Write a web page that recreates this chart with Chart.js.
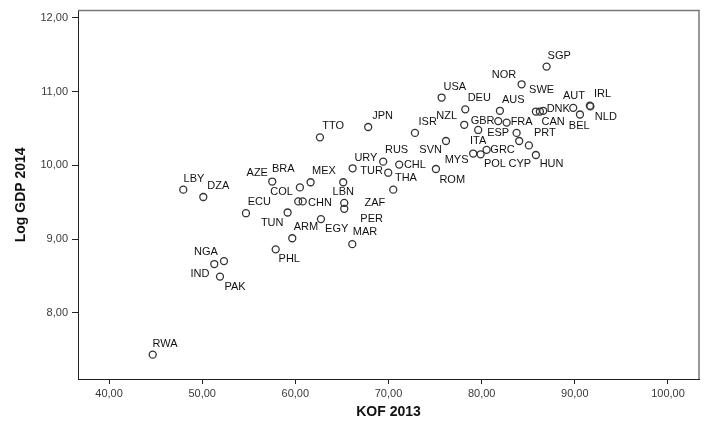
<!DOCTYPE html>
<html>
<head>
<meta charset="utf-8">
<script src="https://cdn.jsdelivr.net/npm/chart.js@4.4.1/dist/chart.umd.min.js"></script>
<style>
  html, body { margin: 0; padding: 0; background: #fff; }
  #wrap { position: relative; width: 708px; height: 425px; }
</style>
</head>
<body>
<div id="wrap"><canvas id="c"></canvas></div>
<script>
// 国コード / KOF 2013 / Log GDP 2014
const countries = ['SGP','NOR','SWE','USA','DEU','AUS','AUT','IRL','NLD','DNK','CAN','BEL','NZL','GBR','FRA','ITA','ISR','ESP','PRT','CYP','HUN','SVN','MYS','POL','GRC','JPN','TTO','RUS','URY','CHL','TUR','THA','ROM','MEX','LBN','ZAF','PER','COL','CHN','AZE','BRA','LBY','DZA','ECU','TUN','EGY','ARM','MAR','PHL','NGA','IND','PAK','RWA'];
const kof = [86.97,84.29,86.25,75.70,78.24,81.96,89.83,91.62,91.67,86.61,85.82,90.55,78.13,81.78,82.68,79.63,72.84,83.75,85.07,84.03,85.82,76.17,79.09,79.89,80.53,67.82,62.64,69.43,66.15,71.15,69.97,70.51,75.09,61.64,65.14,65.25,65.25,60.31,60.79,57.52,60.49,47.97,50.12,54.70,59.17,62.75,59.67,66.11,57.89,52.34,51.30,51.91,44.69];
const logGdp = [11.34,11.10,10.73,10.92,10.76,10.74,10.78,10.81,10.80,10.74,10.73,10.69,10.55,10.60,10.58,10.48,10.44,10.44,10.27,10.33,10.14,10.33,10.16,10.15,10.21,10.52,10.38,10.05,9.96,10.01,9.90,9.67,9.95,9.77,9.77,9.49,9.41,9.51,9.51,9.78,9.70,9.67,9.57,9.35,9.36,9.27,9.01,8.93,8.86,8.70,8.66,8.49,7.43];
const xTicks = [40, 50, 60, 70, 80, 90, 100];
const yTicks = [8, 9, 10, 11, 12];

// ラベルの表示位置（点からのずれ, px）
const labelOffset = {
  SGP:[12.6,-10.4], NOR:[-17.7,-9.7], SWE:[1.7,-21.6], USA:[13.3,-10.3], DEU:[14,-11.3], AUS:[13.3,-10.6],
  AUT:[0.7,-11.6], IRL:[12.7,-11.3], NLD:[15.5,10.5], DNK:[15,-1.7], CAN:[17.3,10.7], BEL:[-0.7,11.7],
  NZL:[-17.6,-8.4], GBR:[-15.6,0], FRA:[15,-0.3], ITA:[0,11], ISR:[12.7,-11], ESP:[-18.4,0],
  PRT:[16,-12], CYP:[0.7,22.7], HUN:[15.7,9.4], SVN:[-15.3,9.4], MYS:[-16.6,6.6], POL:[14.3,9.3],
  GRC:[16,0], JPN:[14.4,-11], TTO:[13.3,-11], RUS:[13.4,-11.3], URY:[13.3,-10.7], CHL:[15.7,0],
  TUR:[-16.6,-1.4], THA:[12.7,-11.6], ROM:[16.3,10.6], MEX:[13.3,-11], LBN:[0,9.5], ZAF:[30.7,0],
  PER:[27.4,10.4], COL:[-16.6,-9.3], CHN:[17.3,1.4], AZE:[-15,-9], BRA:[-16.7,-18], LBY:[10.7,-10.6],
  DZA:[15,-11.4], ECU:[13.3,-11], TUN:[-15.4,10.7], EGY:[15.7,10], ARM:[13.7,-11], MAR:[12.7,-11.7],
  PHL:[13.6,9.3], NGA:[-18,-9.6], IND:[-14.3,10], PAK:[15,10.3], RWA:[12.3,-10.7]
};

const FONT = "'Liberation Sans', Arial, sans-serif";

const pointLabels = {
  id: 'pointLabels',
  afterDatasetsDraw(chart) {
    const ctx = chart.ctx;
    const meta = chart.getDatasetMeta(0);
    ctx.save();
    ctx.font = '11px ' + FONT;
    ctx.fillStyle = '#111';
    ctx.textAlign = 'center';
    ctx.textBaseline = 'middle';
    meta.data.forEach((pt, i) => {
      const off = labelOffset[countries[i]] || [12, -10];
      ctx.fillText(countries[i], pt.x + off[0], pt.y + off[1]);
    });
    ctx.restore();
  }
};

// 上と右の枠線
const frame = {
  id: 'frame',
  beforeDatasetsDraw(chart) {
    const {ctx, chartArea: a} = chart;
    ctx.save();
    ctx.strokeStyle = '#777';
    ctx.lineWidth = 1.5;
    ctx.beginPath();
    ctx.moveTo(a.left, a.top);
    ctx.lineTo(a.right, a.top);
    ctx.lineTo(a.right, a.bottom);
    ctx.stroke();
    ctx.restore();
  }
};

const fmt = v => Number(v).toFixed(2).replace('.', ',');

new Chart(document.getElementById('c'), {
  type: 'scatter',
  data: {
    datasets: [{
      data: kof.map((x, i) => ({ x, y: logGdp[i] })),
      pointStyle: 'circle',
      pointRadius: 3.5,
      pointHoverRadius: 3.5,
      borderWidth: 1.3,
      borderColor: '#333',
      backgroundColor: 'rgba(0,0,0,0)'
    }]
  },
  options: {
    responsive: true,
    maintainAspectRatio: false,
    animation: false,
    events: [],
    layout: { padding: { left: 0, right: 9, top: 6, bottom: 0 } },
    plugins: { legend: { display: false }, tooltip: { enabled: false } },
    scales: {
      x: {
        type: 'linear',
        min: 36.67,
        max: 103.33,
        afterBuildTicks: s => { s.ticks = xTicks.map(v => ({ value: v })); },
        afterFit: s => { s.height = 46; },
        grid: { drawOnChartArea: false, drawTicks: true, tickLength: 5, color: '#222' },
        border: { display: true, color: '#222', width: 1 },
        ticks: { callback: fmt, color: '#3a3a3a', padding: 3, maxRotation: 0, font: { family: FONT, size: 11 } },
        title: { display: true, text: 'KOF 2013', color: '#111', padding: { top: 0, bottom: 4 }, font: { family: FONT, size: 14, weight: 'bold' } }
      },
      y: {
        type: 'linear',
        min: 7.1,
        max: 12.1,
        afterBuildTicks: s => { s.ticks = yTicks.map(v => ({ value: v })); },
        afterFit: s => { s.width = 78; },
        grid: { drawOnChartArea: false, drawTicks: true, tickLength: 6, color: '#222' },
        border: { display: true, color: '#222', width: 1 },
        ticks: { callback: fmt, color: '#3a3a3a', padding: 4, font: { family: FONT, size: 11 } },
        title: { display: true, text: 'Log GDP 2014', color: '#111', padding: { top: 13, bottom: 0 }, font: { family: FONT, size: 14, weight: 'bold' } }
      }
    }
  },
  plugins: [frame, pointLabels]
});
</script>
</body>
</html>
